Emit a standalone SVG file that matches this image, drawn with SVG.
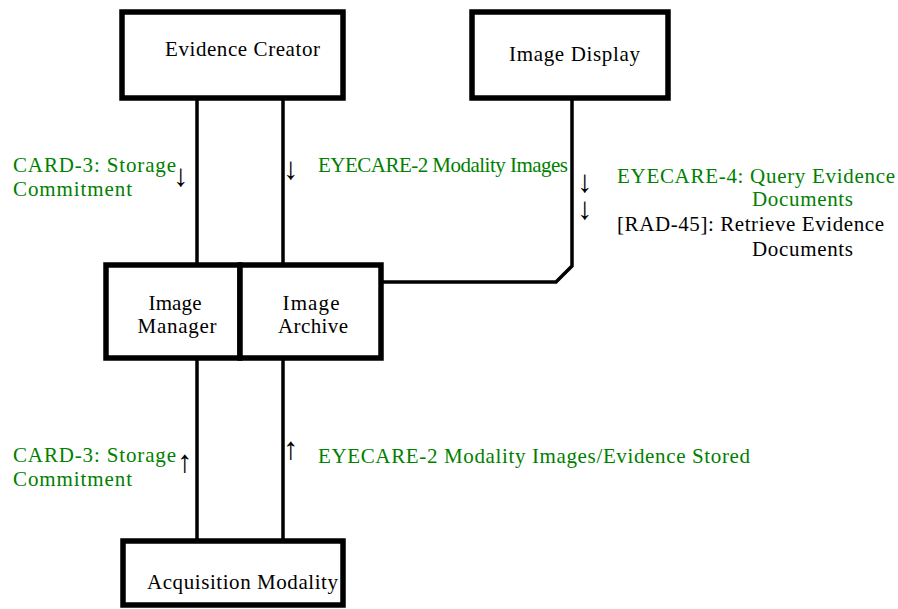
<svg xmlns="http://www.w3.org/2000/svg" width="898" height="609" viewBox="0 0 898 609">
<style>
.box{fill:#fff;stroke:#000;stroke-width:5.5}
.ln{fill:none;stroke:#000;stroke-width:3.5}
text{font-family:"Liberation Serif","Times New Roman",serif;font-size:21px}
.g{fill:#008000}
.k{fill:#000}
.arr{fill:#000;font-family:"Liberation Sans","DejaVu Sans",sans-serif;font-size:31px}
</style>
<rect width="898" height="609" fill="#fff"/>
<g id="connectors">
<line class="ln" x1="197" y1="98" x2="197" y2="265"/>
<line class="ln" x1="283" y1="98" x2="283" y2="265"/>
<path class="ln" d="M572,98 V266 L556,282 H381"/>
<line class="ln" x1="197" y1="358" x2="197" y2="541"/>
<line class="ln" x1="283" y1="358" x2="283" y2="541"/>
</g>
<g id="evidence-creator">
<rect class="box" x="122" y="12" width="221" height="86"/>
<text class="k" x="165" y="56" textLength="155">Evidence Creator</text>
</g>
<g id="image-display">
<rect class="box" x="472" y="12" width="196" height="86"/>
<text class="k" x="509" y="61" textLength="131">Image Display</text>
</g>
<g id="image-manager">
<rect class="box" x="106" y="265" width="134" height="93"/>
<text class="k" x="175" y="310" text-anchor="middle" textLength="53">Image</text>
<text class="k" x="177" y="333" text-anchor="middle" textLength="79">Manager</text>
</g>
<g id="image-archive">
<rect class="box" x="240" y="265" width="141" height="93"/>
<text class="k" x="311" y="310" text-anchor="middle" textLength="57">Image</text>
<text class="k" x="313" y="333" text-anchor="middle" textLength="70">Archive</text>
</g>
<g id="acquisition-modality">
<rect class="box" x="123" y="541" width="220" height="64"/>
<text class="k" x="147" y="589" textLength="191">Acquisition Modality</text>
</g>
<g id="labels">
<text class="g" x="13" y="172" textLength="163">CARD-3: Storage</text>
<text class="g" x="13" y="196" textLength="119">Commitment</text>
<text class="arr" x="173" y="186">↓</text>
<text class="arr" x="283" y="179">↓</text>
<text class="g" x="318" y="172" textLength="250">EYECARE-2 Modality Images</text>
<text class="arr" x="577" y="192">↓</text>
<text class="arr" x="577" y="219">↓</text>
<text class="g" x="617" y="183" textLength="278">EYECARE-4: Query Evidence</text>
<text class="g" x="752" y="206" textLength="101">Documents</text>
<text class="k" x="617" y="231" textLength="267">[RAD-45]: Retrieve Evidence</text>
<text class="k" x="752" y="256" textLength="101">Documents</text>
<text class="g" x="13" y="462" textLength="163">CARD-3: Storage</text>
<text class="g" x="13" y="486" textLength="119">Commitment</text>
<text class="arr" x="177" y="472">↑</text>
<text class="arr" x="283" y="459">↑</text>
<text class="g" x="318" y="463" textLength="432">EYECARE-2 Modality Images/Evidence Stored</text>
</g>
</svg>
